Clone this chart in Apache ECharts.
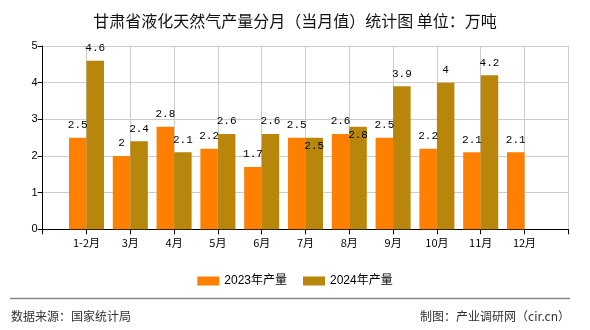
<!DOCTYPE html>
<html>
<head>
<meta charset="utf-8">
<script src="https://cdn.jsdelivr.net/npm/echarts@6/dist/echarts.min.js"></script>
<style>
html,body{margin:0;padding:0;background:#fff;}
#c{width:590px;height:330px;}
</style>
</head>
<body>
<div id="c"></div>
<script>
var titleText = '甘肃省液化天然气产量分月（当月值）统计图 单位：万吨';
var months = ['1-2月','3月','4月','5月','6月','7月','8月','9月','10月','11月','12月'];
var s2023Name = '2023年产量';
var s2024Name = '2024年产量';
var s2023 = [2.5, 2, 2.8, 2.2, 1.7, 2.5, 2.6, 2.5, 2.2, 2.1, 2.1];
var s2024 = [4.6, 2.4, 2.1, 2.6, 2.6, 2.5, 2.8, 3.9, 4, 4.2, null];
var sourceText = '数据来源：国家统计局';
var creditText = '制图：产业调研网（cir.cn）';

var cats = [''].concat(months).concat(['']);
var d2023 = [null].concat(s2023).concat([null]);
var d2024 = [null].concat(s2024.map(function (v, i) {
  if (v == null) return null;
  var close = Math.abs(v - s2023[i]) <= 0.2;
  return close ? { value: v, label: { position: 'insideTop', distance: 3 } } : v;
})).concat([null]);

var labelFont = { color: '#000', fontSize: 11, fontFamily: 'Liberation Mono, DejaVu Sans Mono, monospace' };

var chart = echarts.init(document.getElementById('c'), null, { renderer: 'canvas' });
chart.setOption({
  animation: false,
  backgroundColor: '#fff',
  title: {
    text: titleText, left: 'center', top: 8,
    textStyle: { fontSize: 16, fontWeight: 'normal', color: '#111', fontFamily: 'Noto Sans CJK SC' }
  },
  grid: { left: 42.7, right: 21.7, top: 46, bottom: 100.7, containLabel: false },
  legend: {
    top: 270, left: 'center', itemWidth: 22, itemHeight: 9, itemGap: 16,
    textStyle: { fontSize: 12, color: '#000', fontFamily: 'Liberation Sans, Noto Sans CJK SC' },
    data: [s2023Name, s2024Name],
    icon: 'rect'
  },
  xAxis: {
    type: 'category', data: cats, boundaryGap: false,
    axisLine: { lineStyle: { color: '#000', width: 1 } },
    axisTick: { show: true, interval: 0, length: 5, lineStyle: { color: '#000' } },
    axisLabel: { interval: 0, color: '#000', fontSize: 11, margin: 8, fontFamily: 'Noto Sans CJK SC' },
    splitLine: { show: true, interval: 0, lineStyle: { color: '#cccccc' } }
  },
  yAxis: {
    type: 'value', min: 0, max: 5, interval: 1,
    axisLine: { show: true, lineStyle: { color: '#000' } },
    axisTick: { show: true, length: 5, lineStyle: { color: '#000' } },
    axisLabel: { color: '#000', fontSize: 11, margin: 5, fontFamily: 'Liberation Sans' },
    splitLine: { show: true, lineStyle: { color: '#cccccc' } }
  },
  series: [
    {
      name: s2023Name, type: 'bar', data: d2023, barWidth: '40%', barGap: '0%',
      itemStyle: { color: '#FF8000' },
      label: Object.assign({ show: true, position: 'top', distance: 7 }, labelFont)
    },
    {
      name: s2024Name, type: 'bar', data: d2024, barWidth: '40%', barGap: '0%',
      itemStyle: { color: '#B8860B' },
      label: Object.assign({ show: true, position: 'top', distance: 7 }, labelFont)
    }
  ],
  graphic: [
    { type: 'line', shape: { x1: 10, y1: 298.5, x2: 570, y2: 298.5 }, style: { stroke: '#888', lineWidth: 1.5 } },
    { type: 'text', left: 11, top: 310, style: { text: sourceText, fontSize: 12, fill: '#333', fontFamily: 'Noto Sans CJK SC' } },
    { type: 'text', right: 20, top: 310, style: { text: creditText, fontSize: 12, fill: '#333', fontFamily: 'Noto Sans CJK SC' } }
  ]
});
</script>
</body>
</html>
